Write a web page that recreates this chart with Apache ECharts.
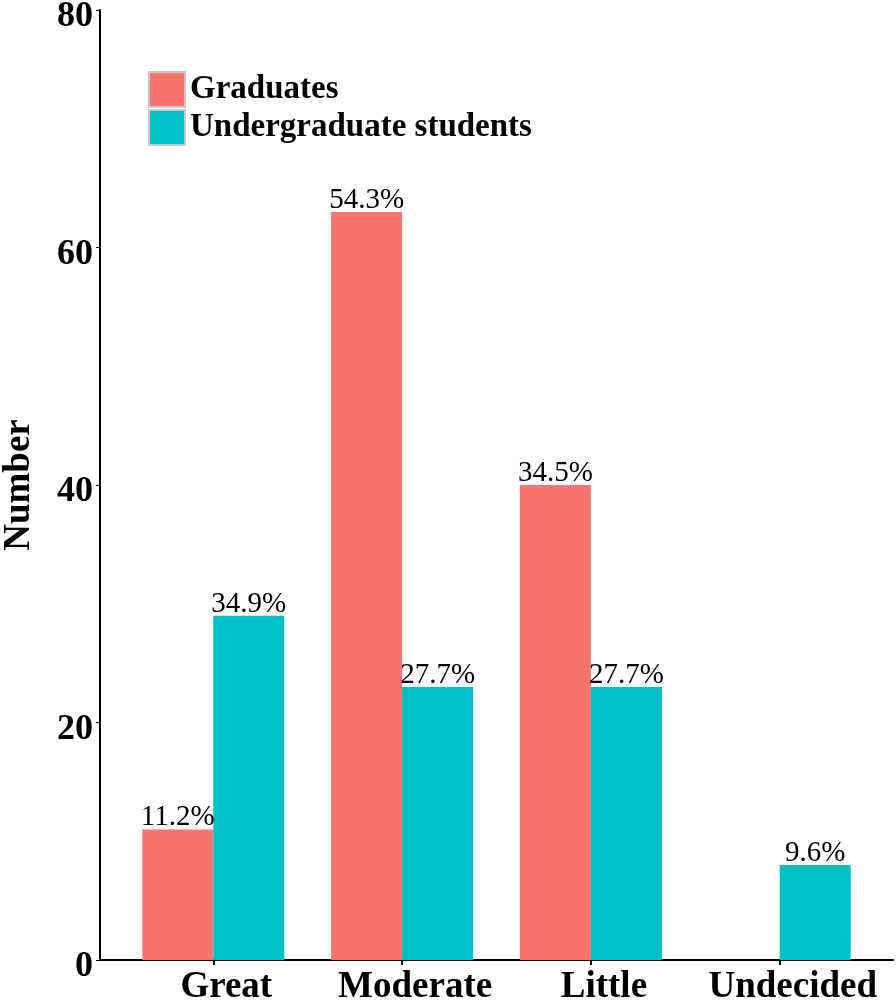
<!DOCTYPE html>
<html>
<head>
<meta charset="utf-8">
<script src="https://cdn.jsdelivr.net/npm/echarts@6/dist/echarts.min.js"></script>
<style>html,body{margin:0;padding:0;background:#fff}#c{width:896px;height:1003px}</style>
</head>
<body>
<div id="c"></div>
<script>
const categories = ['Great', 'Moderate', 'Little', 'Undecided'];
const graduates = [11, 63, 40, null];
const undergraduates = [29, 23, 23, 8];
const graduateLabels = ['11.2%', '54.3%', '34.5%', ''];
const undergraduateLabels = ['34.9%', '27.7%', '27.7%', '9.6%'];
const seriesNames = ['Graduates', 'Undergraduate students'];

const FONT = "'Liberation Serif', 'Times New Roman', serif";
const positions = categories.map((c, i) => i + 1);

const chart = echarts.init(document.getElementById('c'), null, {renderer: 'canvas'});
chart.setOption({
  animation: false,
  backgroundColor: '#fff',
  grid: {left: 100, right: 3, top: 10, bottom: 43, containLabel: false, outerBoundsMode: 'none'},
  legend: {
    orient: 'vertical',
    left: 148, top: 71,
    padding: 0,
    itemWidth: 36, itemHeight: 35,
    itemGap: 1,
    icon: 'rect',
    itemStyle: {borderColor: '#c8c8c8', borderWidth: 2},
    textStyle: {fontFamily: FONT, fontWeight: 'bold', fontSize: 33, lineHeight: 36, color: '#000'},
    data: seriesNames
  },
  xAxis: {
    type: 'value',
    min: 0.4, max: 4.6,
    splitLine: {show: false},
    axisLine: {show: true, onZero: false, lineStyle: {color: '#000', width: 2}},
    axisTick: {show: true, customValues: positions, length: 5, lineStyle: {color: '#000', width: 2}},
    axisLabel: {
      customValues: positions,
      formatter: v => categories[Math.round(v) - 1] || '',
      fontFamily: FONT, fontWeight: 'bold', fontSize: 37, lineHeight: 37, color: '#000', margin: 9,
      padding: [0, 0, 0, 26]
    }
  },
  yAxis: {
    type: 'value',
    min: 0, max: 80, interval: 20,
    name: 'Number',
    nameLocation: 'middle',
    nameGap: 62,
    nameTextStyle: {fontFamily: FONT, fontWeight: 'bold', fontSize: 37, color: '#000'},
    splitLine: {show: false},
    axisLine: {show: true, onZero: false, lineStyle: {color: '#000', width: 2}},
    axisTick: {show: true, length: 4, lineStyle: {color: '#000', width: 1}},
    axisLabel: {fontFamily: FONT, fontWeight: 'bold', fontSize: 36, lineHeight: 14, verticalAlign: 'top',
      color: '#000', margin: 7}
  },
  series: [
    {
      name: seriesNames[0],
      type: 'bar',
      barWidth: 71,
      barGap: '0%',
      itemStyle: {color: '#F8766D'},
      label: {
        show: true, position: 'top', distance: -3,
        fontFamily: FONT, fontSize: 29, color: '#000',
        formatter: p => graduateLabels[p.dataIndex]
      },
      data: positions.map((x, i) => [x, graduates[i]])
    },
    {
      name: seriesNames[1],
      type: 'bar',
      barWidth: 71,
      barGap: '0%',
      itemStyle: {color: '#00BFC4'},
      label: {
        show: true, position: 'top', distance: -3,
        fontFamily: FONT, fontSize: 29, color: '#000',
        formatter: p => undergraduateLabels[p.dataIndex]
      },
      data: positions.map((x, i) => [x, undergraduates[i]])
    }
  ]
});
</script>
</body>
</html>
